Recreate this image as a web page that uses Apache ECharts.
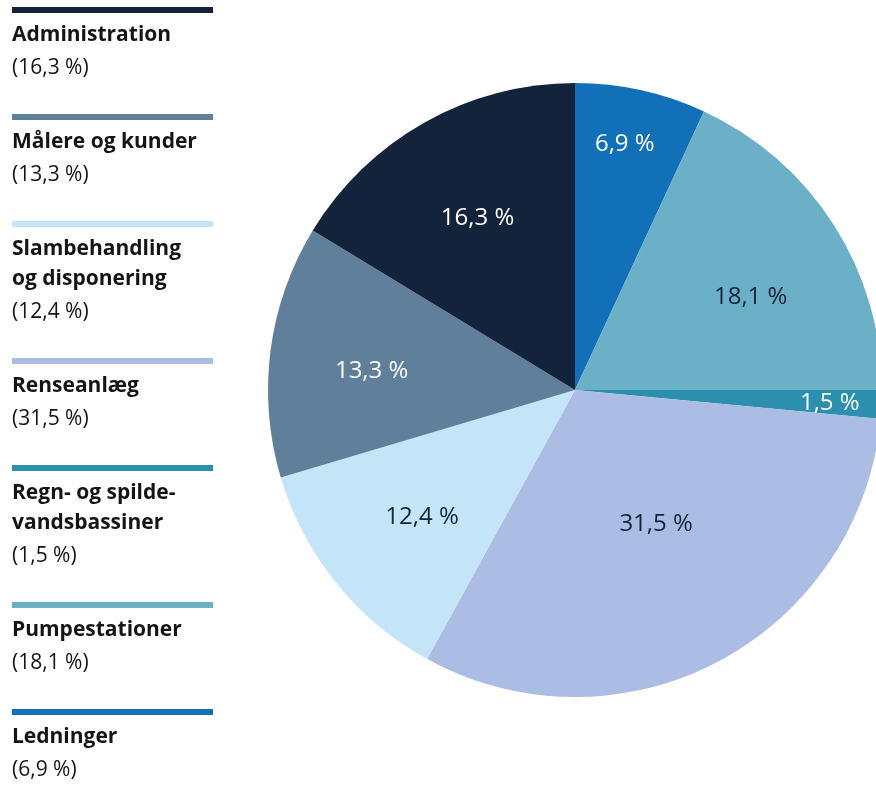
<!DOCTYPE html>
<html><head><meta charset="utf-8">
<script src="https://cdn.jsdelivr.net/npm/echarts@6/dist/echarts.min.js"></script>
<style>html,body{margin:0;padding:0;background:#fff}#c{width:876px;height:787px}</style>
</head><body><div id="c"></div>
<script>
// Data (clockwise from top)
const categories = ['Ledninger', 'Pumpestationer', 'Regn- og spilde-\nvandsbassiner', 'Renseanlæg', 'Slambehandling\nog disponering', 'Målere og kunder', 'Administration'];
const values = [6.9, 18.1, 1.5, 31.5, 12.4, 13.3, 16.3];
// Styles
const colors = ['#1270b8', '#6cb0c7', '#2b8fad', '#abbde3', '#c4e5f8', '#5f7f9b', '#13233b'];
const labelColors = ['#ffffff', '#13233b', '#ffffff', '#13233b', '#13233b', '#ffffff', '#ffffff'];
const labelShift = [[7, -52], [8, 14], [56, 4], [-12, -42], [2, 2], [-6, 7], [0, 2]];
const legendOrder = [6, 5, 4, 3, 2, 1, 0];
const FONT = '"Open Sans", "Liberation Sans", sans-serif';

const fmt = v => v.toFixed(1).replace('.', ',') + ' %';

const chart = echarts.init(document.getElementById('c'), null, {renderer: 'canvas'});

const graphics = [];
let y = 7;
legendOrder.forEach(i => {
  const lines = categories[i].split('\n').length;
  graphics.push({type: 'rect', silent: true, shape: {x: 12, y: y, width: 201, height: 6}, style: {fill: colors[i]}});
  graphics.push({type: 'text', silent: true, style: {x: 12, y: y + 13, text: categories[i], font: 'bold 21px ' + FONT, lineHeight: 30, fill: '#151515', verticalAlign: 'top'}});
  graphics.push({type: 'text', silent: true, style: {x: 12, y: y + 16 + 30 * lines, text: '(' + fmt(values[i]) + ')', font: '21px ' + FONT, lineHeight: 30, fill: '#151515', verticalAlign: 'top'}});
  y += 77 + 30 * lines;
});

const pieData = categories.map((c, i) => ({name: c, value: values[i], itemStyle: {color: colors[i]}}));
const labelData = categories.map((c, i) => ({name: c, value: values[i], label: {color: labelColors[i]}}));

chart.setOption({
  animation: false,
  graphic: graphics,
  series: [
    {
      type: 'pie', center: [575, 390], radius: 307, startAngle: 90, clockwise: true,
      silent: true, label: {show: false}, labelLine: {show: false},
      itemStyle: {borderWidth: 0}, emphasis: {disabled: true},
      data: pieData
    },
    {
      type: 'pie', center: [575, 390], radius: [85, 307], startAngle: 90, clockwise: true,
      silent: true, z: 3,
      itemStyle: {color: 'rgba(0,0,0,0)', borderWidth: 0}, emphasis: {disabled: true},
      label: {show: true, position: 'inside', formatter: p => fmt(p.value), fontFamily: FONT, fontSize: 24, fontWeight: 'normal'},
      labelLine: {show: false},
      labelLayout: p => ({dx: labelShift[p.dataIndex][0], dy: labelShift[p.dataIndex][1]}),
      data: labelData
    }
  ]
});
</script></body></html>
